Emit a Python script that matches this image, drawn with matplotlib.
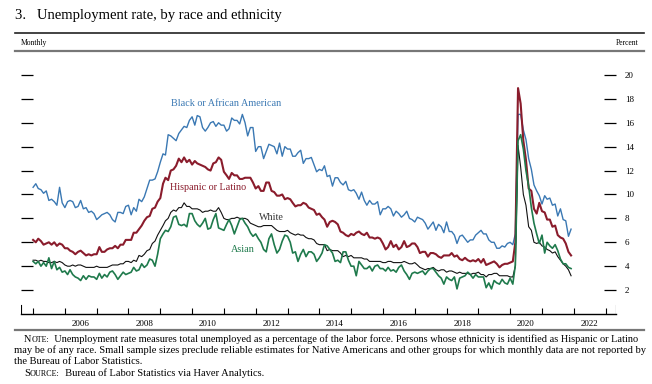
import numpy as np
import pandas as pd
import matplotlib
matplotlib.use('Agg')
import matplotlib.pyplot as plt
import matplotlib.dates as mdates
from matplotlib.lines import Line2D

plt.rcParams['font.family'] = ['Liberation Serif', 'DejaVu Serif']

# monthly unemployment rates, Jan 2005 - Dec 2021 (percent)
black = [
    10.6, 10.9, 10.5, 10.4, 10.1, 10.3, 9.5, 9.6, 9.4, 9.1, 10.6, 9.3,
    8.9, 9.4, 9.5, 9.4, 8.9, 9.0, 9.5, 8.8, 8.9, 8.5, 8.6, 8.4,
    7.9, 8.1, 8.3, 8.4, 8.5, 8.3, 7.9, 7.7, 8.5, 8.5, 8.4, 9.0,
    9.1, 8.3, 8.9, 8.6, 9.6, 9.4, 9.8, 10.5, 11.2, 11.2, 11.3, 11.9,
    12.7, 13.4, 13.3, 15.0, 14.9, 14.7, 14.5, 15.1, 15.4, 15.7, 15.6, 16.2,
    16.5, 15.8, 16.6, 16.5, 15.6, 15.3, 15.6, 16.0, 16.1, 15.7, 16.0, 15.8,
    15.8, 15.3, 15.5, 16.4, 16.2, 16.2, 15.9, 16.7, 16.0, 14.9, 15.6, 15.6,
    13.6, 14.0, 14.0, 13.0, 13.6, 14.2, 14.1, 14.0, 13.4, 14.3, 13.2, 14.0,
    13.8, 13.8, 13.2, 13.2, 13.5, 13.7, 12.6, 13.0, 13.0, 13.1, 12.5, 11.9,
    12.1, 12.0, 12.4, 11.5, 11.6, 10.7, 11.4, 11.4, 11.0, 10.8, 11.1, 10.4,
    10.3, 10.4, 10.1, 9.6, 10.2, 9.5, 9.1, 9.5, 9.2, 9.2, 9.4, 8.3,
    8.8, 8.8, 9.0, 8.8, 8.2, 8.6, 8.4, 8.1, 8.3, 8.6, 8.0, 7.9,
    7.7, 8.1, 8.0, 7.9, 7.6, 7.1, 7.4, 7.7, 7.0, 7.5, 7.3, 6.8,
    7.7, 6.9, 6.9, 6.6, 5.9, 6.5, 6.6, 6.3, 6.0, 6.2, 6.2, 6.6,
    6.8, 7.0, 6.7, 6.7, 6.2, 6.0, 6.0, 5.5, 5.5, 5.7, 5.6, 5.9,
    6.0, 5.8, 6.7, 16.7, 16.7, 15.4, 14.6, 13.0, 12.1, 10.8, 10.3, 9.9,
    9.2, 9.9, 9.6, 9.7, 9.1, 9.2, 8.2, 8.8, 7.9, 7.8, 6.5, 7.1,
]
hispanic = [
    6.2, 6.0, 6.3, 6.1, 5.8, 5.9, 6.0, 5.8, 6.0, 5.7, 5.9, 5.8,
    5.5, 5.5, 5.3, 5.2, 5.0, 5.2, 5.3, 5.1, 4.9, 5.0, 4.9, 5.0,
    5.0, 5.6, 5.2, 5.2, 5.4, 5.5, 5.5, 5.7, 5.5, 5.8, 5.8, 6.2,
    6.2, 6.2, 6.8, 6.8, 7.1, 7.4, 7.8, 8.1, 8.2, 8.8, 8.9, 9.4,
    9.7, 10.9, 11.4, 11.2, 12.0, 12.1, 12.4, 13.0, 12.7, 13.1, 12.7, 12.9,
    12.5, 12.8, 12.6, 12.5, 12.4, 12.3, 12.1, 12.0, 12.6, 12.7, 13.1, 12.9,
    11.9, 11.6, 11.3, 11.8, 11.6, 11.6, 11.3, 11.3, 11.4, 11.4, 11.4, 11.0,
    10.5, 10.7, 10.3, 10.3, 11.0, 11.0, 10.3, 10.2, 9.9, 9.9, 10.0, 9.6,
    9.7, 9.6, 9.3, 9.0, 9.1, 9.1, 9.3, 9.2, 8.9, 8.8, 8.7, 8.3,
    8.4, 8.1, 7.9, 7.3, 7.7, 7.8, 7.7, 7.5, 6.9, 6.8, 6.6, 6.5,
    6.7, 6.6, 6.8, 6.9, 6.7, 6.6, 6.8, 6.4, 6.4, 6.3, 6.4, 6.3,
    5.9, 5.4, 5.6, 6.1, 5.6, 5.8, 5.4, 5.6, 6.1, 5.6, 5.7, 5.9,
    5.9, 5.6, 5.1, 5.2, 5.2, 4.8, 5.1, 5.1, 5.0, 4.8, 4.7, 4.9,
    4.9, 4.9, 5.1, 4.8, 4.9, 4.6, 4.5, 4.7, 4.5, 4.4, 4.5, 4.4,
    4.6, 4.3, 4.6, 4.1, 4.2, 4.3, 4.4, 4.2, 3.9, 4.1, 4.2, 4.2,
    4.3, 4.4, 6.0, 18.9, 17.6, 14.5, 12.9, 10.5, 10.3, 8.8, 8.4, 9.3,
    8.6, 8.5, 7.9, 7.9, 7.3, 7.4, 6.6, 6.4, 6.3, 5.9, 5.2, 4.9,
]
white = [
    4.5, 4.5, 4.4, 4.5, 4.4, 4.4, 4.3, 4.3, 4.4, 4.3, 4.4, 4.3,
    4.1, 4.0, 4.0, 4.1, 4.0, 4.1, 4.1, 4.0, 3.9, 3.9, 3.9, 3.9,
    4.0, 3.9, 3.9, 3.9, 3.9, 4.0, 4.1, 4.1, 4.1, 4.2, 4.2, 4.4,
    4.4, 4.3, 4.5, 4.4, 4.9, 4.8, 5.0, 5.3, 5.4, 5.9, 6.1, 6.6,
    7.0, 7.4, 7.8, 8.0, 8.5, 8.7, 8.6, 8.9, 8.9, 9.3, 9.0, 9.0,
    8.8, 8.8, 8.8, 8.7, 8.5, 8.6, 8.6, 8.7, 8.6, 8.6, 8.9, 8.5,
    8.0, 7.9, 7.9, 8.0, 8.0, 8.1, 8.0, 8.0, 8.0, 7.9, 7.6, 7.5,
    7.4, 7.3, 7.3, 7.4, 7.4, 7.4, 7.4, 7.2, 7.0, 6.9, 6.9, 6.9,
    7.0, 6.8, 6.7, 6.6, 6.7, 6.6, 6.6, 6.4, 6.3, 6.3, 6.2, 5.9,
    5.8, 5.8, 5.8, 5.3, 5.4, 5.3, 5.3, 5.3, 5.1, 4.8, 4.9, 4.8,
    4.9, 4.7, 4.7, 4.7, 4.7, 4.6, 4.6, 4.4, 4.4, 4.4, 4.4, 4.4,
    4.3, 4.3, 4.4, 4.4, 4.3, 4.3, 4.3, 4.3, 4.4, 4.3, 4.2, 4.2,
    4.3, 4.1, 3.9, 3.8, 3.7, 3.8, 3.8, 3.9, 3.7, 3.6, 3.7, 3.7,
    3.5, 3.6, 3.6, 3.5, 3.4, 3.5, 3.4, 3.4, 3.4, 3.3, 3.4, 3.4,
    3.5, 3.3, 3.3, 3.1, 3.3, 3.3, 3.4, 3.4, 3.2, 3.2, 3.2, 3.2,
    3.1, 3.1, 4.0, 14.1, 12.3, 10.0, 9.1, 7.3, 7.0, 6.0, 5.9, 6.0,
    5.7, 5.6, 5.4, 5.3, 5.1, 5.2, 4.8, 4.5, 4.2, 4.0, 3.7, 3.2,
]
asian = [
    4.4, 4.2, 4.4, 4.0, 4.3, 4.0, 4.7, 3.8, 4.4, 3.7, 3.9, 3.5,
    3.6, 3.3, 3.7, 3.3, 3.1, 3.0, 2.8, 3.2, 2.9, 3.2, 3.1, 3.1,
    2.9, 3.4, 3.0, 3.3, 3.1, 3.5, 3.6, 3.3, 2.9, 3.2, 3.5, 3.3,
    3.4, 3.5, 3.9, 3.6, 3.7, 4.2, 3.9, 4.1, 4.6, 4.5, 4.0, 5.0,
    6.3, 6.7, 7.0, 6.9, 7.3, 8.1, 8.2, 7.5, 7.4, 7.5, 7.3, 8.4,
    8.4, 7.8, 7.5, 7.3, 7.6, 8.0, 7.1, 7.2, 7.9, 8.4, 7.2, 7.1,
    7.0, 7.5, 7.9, 7.4, 6.7, 7.3, 7.9, 8.0, 7.6, 7.3, 6.8, 6.5,
    6.7, 6.3, 6.0, 5.4, 5.2, 6.3, 6.7, 5.8, 5.1, 5.4, 6.1, 6.6,
    6.5, 6.0, 5.1, 5.2, 4.4, 5.0, 5.4, 4.8, 5.2, 5.2, 5.0, 4.4,
    4.7, 5.1, 5.8, 5.7, 5.4, 5.1, 4.4, 4.5, 4.3, 5.2, 5.2, 4.5,
    4.0, 4.0, 3.2, 4.4, 4.1, 3.8, 3.8, 4.0, 3.6, 4.0, 4.1, 3.8,
    3.8, 3.6, 3.9, 3.6, 3.7, 3.5, 3.9, 4.1, 3.6, 3.3, 2.9, 3.4,
    3.5, 3.4, 3.5, 3.6, 3.3, 3.6, 3.8, 3.8, 3.5, 3.2, 3.0, 2.5,
    3.1, 2.9, 2.8, 3.1, 2.1, 3.0, 3.1, 3.2, 3.5, 3.3, 3.0, 3.3,
    3.1, 3.1, 3.1, 2.2, 2.6, 2.1, 2.8, 2.6, 2.5, 2.9, 2.6, 2.5,
    3.0, 2.5, 4.1, 14.5, 15.0, 13.8, 12.0, 10.7, 8.9, 7.6, 6.7, 5.9,
    6.6, 5.1, 6.0, 5.7, 5.5, 5.8, 5.3, 4.6, 4.2, 4.2, 3.9, 3.8,
]
dates = pd.date_range('2005-01-01', periods=len(black), freq='MS')

year_labels = list(range(2006, 2023, 2))
pct_ticks = list(range(2, 21, 2))

blue = '#3a78b3'
red = '#8a1c2c'
green = '#1f7a4c'

fig = plt.figure(figsize=(6.52, 3.84), dpi=100)
ax = fig.add_axes([21 / 652, 1 - 314 / 384, 595 / 652, 251 / 384])

ax.plot(dates, black, color=blue, lw=1.0)
ax.plot(dates, hispanic, color=red, lw=1.5)
ax.plot(dates, white, color='#111111', lw=0.8)
ax.plot(dates, asian, color=green, lw=1.2)

lab_fs = 7.3
ax.text(pd.Timestamp('2011-01-25'), 17.6, 'Black or African American', color=blue,
        fontsize=lab_fs, ha='center', va='center')
ax.text(pd.Timestamp('2010-07-01'), 10.55, 'Hispanic or Latino', color=red,
        fontsize=lab_fs, ha='center', va='center')
ax.text(pd.Timestamp('2012-07-01'), 8.1, 'White', color='#333333',
        fontsize=lab_fs, ha='center', va='center')
ax.text(pd.Timestamp('2011-08-08'), 5.4, 'Asian', color=green,
        fontsize=lab_fs, ha='center', va='center')

x0 = pd.Timestamp('2004-08-15')
x1 = pd.Timestamp('2023-05-01')
ax.set_xlim(x0, x1)
ax.set_ylim(0, 21)

for s in ['top', 'left', 'right']:
    ax.spines[s].set_visible(False)
ax.spines['bottom'].set_linewidth(1.0)

# year boundaries as minor ticks, labels centred mid-year
ax.xaxis.set_minor_locator(mdates.YearLocator())
ax.set_xticks([pd.Timestamp(f'{y}-07-01') for y in year_labels])
ax.set_xticklabels([str(y) for y in year_labels])
ax.tick_params(axis='x', which='major', length=0, pad=4, labelsize=6.5)
ax.tick_params(axis='x', which='minor', direction='in', length=4.3, width=0.8)
ax.axvline(x0, ymin=0, ymax=9 / 251, color='black', lw=0.8)
ax.axvline(x1, ymin=0, ymax=9 / 251, color='black', lw=0.8)

ax.set_yticks(pct_ticks)
ax.tick_params(axis='y', which='major', direction='in', length=8.6, width=0.9,
               left=True, right=True, labelleft=False, labelright=True,
               pad=6.5, labelsize=6.5)

# header and footer
fig.text(15 / 652, 1 - 16 / 384, '3.   Unemployment rate, by race and ethnicity',
         fontsize=10.5, va='center')
fig.add_artist(Line2D([15 / 652, 644 / 652], [1 - 33 / 384] * 2, color='#222222', lw=1.2))
fig.text(21 / 652, 1 - 43 / 384, 'Monthly', fontsize=5.5, va='center')
fig.text(639 / 652, 1 - 43 / 384, 'Percent', fontsize=5.5, va='center', ha='right')
fig.add_artist(Line2D([15 / 652, 644 / 652], [1 - 51 / 384] * 2, color='#777777', lw=1.6))
fig.add_artist(Line2D([15 / 652, 644 / 652], [1 - 330 / 384] * 2, color='#777777', lw=1.6))

fs1 = 7.42
fs = 7.55
n = fig.text(24 / 652, 1 - 339 / 384, 'N', fontsize=fs1, va='center')
n1 = ax.annotate('OTE:', xy=(1, 0), xycoords=n, fontsize=fs1 * 0.78, va='bottom')
ax.annotate('  Unemployment rate measures total unemployed as a percentage of the labor force. '
            'Persons whose ethnicity is identified as Hispanic or Latino',
            xy=(1, 0), xycoords=n1, fontsize=fs1, va='bottom')
fig.text(14 / 652, 1 - 350.5 / 384,
         'may be of any race. Small sample sizes preclude reliable estimates for Native Americans '
         'and other groups for which monthly data are not reported by',
         fontsize=fs, va='center')
fig.text(14 / 652, 1 - 362 / 384, 'the Bureau of Labor Statistics.', fontsize=fs, va='center')
s = fig.text(24 / 652, 1 - 373.5 / 384, 'S', fontsize=fs, va='center')
s1 = ax.annotate('OURCE:', xy=(1, 0), xycoords=s, fontsize=fs * 0.78, va='bottom')
ax.annotate('  Bureau of Labor Statistics via Haver Analytics.', xy=(1, 0), xycoords=s1,
            fontsize=fs, va='bottom')

fig.savefig('out.png', dpi=100)
